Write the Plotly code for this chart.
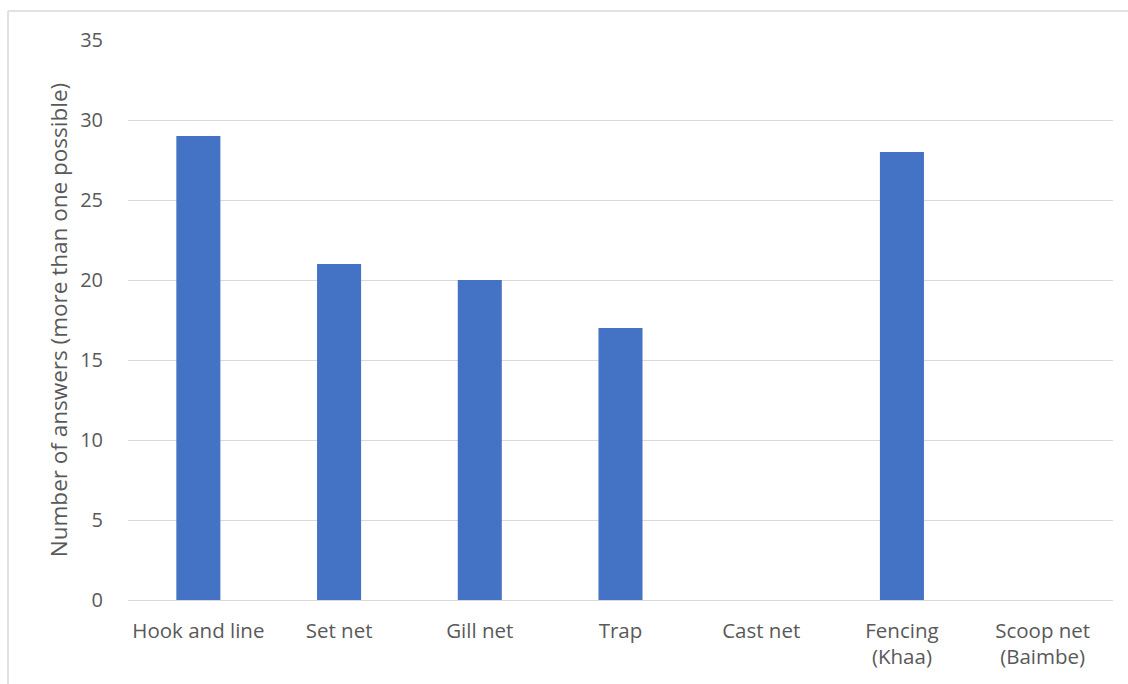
import plotly.graph_objects as go

# Fishing gear categories and counts
gear = ["Hook and line", "Set net", "Gill net", "Trap", "Cast net",
        "Fencing<br>(Khaa)", "Scoop net<br>(Baimbe)"]
answers = [29, 21, 20, 17, 0, 28, 0]
y_ticks = [0, 5, 10, 15, 20, 25, 30, 35]

W, H = 1128, 684
ML, MR, MT, MB = 128, 15, 40, 84
font_family = "'Open Sans', sans-serif"
text_color = "#595959"

fig = go.Figure(go.Bar(
    x=gear, y=answers,
    marker=dict(color="#4472C4", line=dict(width=0)),
    hoverinfo="x+y",
))

fig.update_layout(
    width=W, height=H,
    margin=dict(l=ML, r=MR, t=MT, b=MB),
    paper_bgcolor="white", plot_bgcolor="white",
    bargap=0.687,
    showlegend=False,
    font=dict(family=font_family, size=20, color=text_color),
    xaxis=dict(
        showgrid=False, showline=True, linecolor="#D9D9D9", linewidth=1,
        ticks="", tickfont=dict(size=20.5, color=text_color),
        ticklabelstandoff=12,
    ),
    yaxis=dict(
        range=[0, 35], tickvals=y_ticks,
        showgrid=True, gridcolor="#D9D9D9", gridwidth=1,
        zeroline=True, zerolinecolor="#D9D9D9", zerolinewidth=1,
        showline=False, ticks="",
        tickfont=dict(size=20, color=text_color),
        ticklabelstandoff=24,
        title=dict(text="Number of answers (more than one possible)",
                   font=dict(size=22.5, color=text_color), standoff=6),
    ),
)

# Chart frame (left and top edges)
pw, ph = W - ML - MR, H - MT - MB
fx = (8 - ML) / pw
fy_top = (H - MB - 11) / ph
fig.add_shape(type="line", xref="paper", yref="paper",
              x0=fx, x1=fx, y0=fy_top, y1=-(MB + 5) / ph,
              line=dict(color="#D9D9D9", width=1.5))
fig.add_shape(type="line", xref="paper", yref="paper",
              x0=fx, x1=(W + 5 - ML) / pw, y0=fy_top, y1=fy_top,
              line=dict(color="#D9D9D9", width=1.5))

fig.write_html("out.html")
